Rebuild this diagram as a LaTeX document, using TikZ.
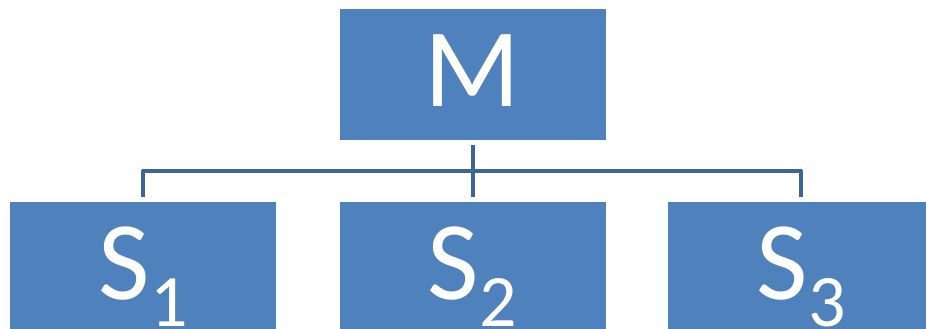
\documentclass[tikz,border=0pt]{standalone}
\usepackage{fontspec}
\setmainfont{Carlito}
\definecolor{boxblue}{HTML}{4F81BD}
\definecolor{lineblue}{HTML}{3E6595}
\tikzset{
  box/.style={fill=boxblue, draw=none, minimum width=266pt, minimum height=131pt, inner sep=0pt,
    text=white, font=\fontsize{112}{112}\selectfont, text height=64pt, text depth=0pt},
  conn/.style={draw=lineblue, line width=4pt, line join=round}
}
\newcommand{\subdig}[1]{\raisebox{-27pt}{\fontsize{74}{74}\selectfont #1}}
\begin{document}
\begin{tikzpicture}[x=1pt,y=1pt]
\useasboundingbox (0,0) rectangle (926,329);
\clip (0,0) rectangle (926,329);
\node[box] (m) at (472.5,254.3) {M};
\node[box] (s1) at (143,61.5) {S\kern1pt\subdig{1}};
\node[box] (s2) at (472.5,61.5) {S\kern1pt\subdig{2}};
\node[box] (s3) at (801,61.5) {S\kern1pt\subdig{3}};
\coordinate (hub) at (472.5,158);
\draw[conn] ([yshift=-5pt]m.south) -- ([yshift=5pt]s2.north);
\draw[conn] ([yshift=5pt]s1.north) |- (hub) -| ([yshift=5pt]s3.north);
\end{tikzpicture}
\end{document}
